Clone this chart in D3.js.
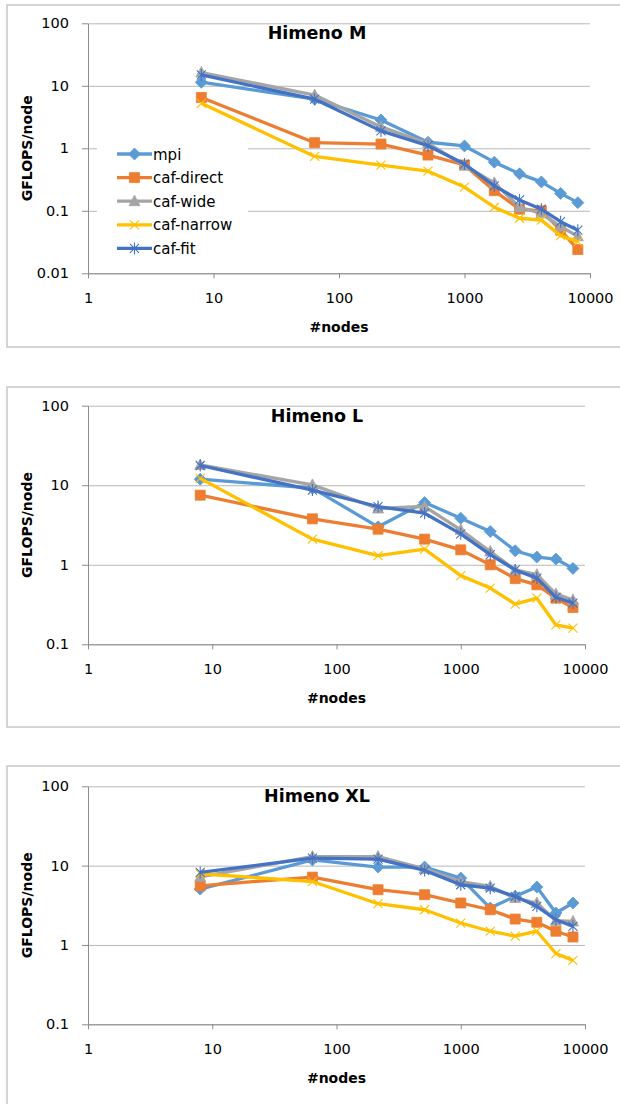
<!DOCTYPE html>
<html>
<head>
<meta charset="utf-8">
<script src="https://cdn.jsdelivr.net/npm/d3@7"></script>
<style>
  body { margin: 0; background: #fff; }
  svg text { font-family: "DejaVu Sans", sans-serif; fill: #000; }
</style>
</head>
<body>
<svg id="chart" width="620" height="1104"></svg>
<script>
// node counts (x values, shared by all panels)
const nodes = [8, 64, 216, 512, 1000, 1728, 2744, 4096, 5832, 8000];
const seriesNames = ["mpi", "caf-direct", "caf-wide", "caf-narrow", "caf-fit"];
const xTicks = [1, 10, 100, 1000, 10000];

// Himeno M  (GFLOPS/node)
const mMpi    = [11.4, 6.1, 2.84, 1.25, 1.09, 0.60, 0.39, 0.29, 0.19, 0.135];
const mDirect = [6.5, 1.23, 1.17, 0.78, 0.54, 0.21, 0.106, 0.10, 0.049, 0.024];
const mWide   = [16.3, 7.1, 2.2, 1.2, 0.53, 0.28, 0.114, 0.091, 0.056, 0.039];
const mNarrow = [5.25, 0.74, 0.54, 0.43, 0.24, 0.114, 0.076, 0.071, 0.040, 0.032];
const mFit    = [14.9, 6.1, 1.9, 1.1, 0.56, 0.25, 0.149, 0.106, 0.067, 0.049];

// Himeno L
const lMpi    = [11.9, 9.2, 3.0, 6.06, 3.85, 2.62, 1.5, 1.25, 1.18, 0.9];
const lDirect = [7.5, 3.78, 2.8, 2.1, 1.54, 1.0, 0.67, 0.56, 0.38, 0.29];
const lWide   = [18, 10.1, 5.1, 5.4, 2.75, 1.47, 0.86, 0.75, 0.43, 0.36];
const lNarrow = [12.2, 2.1, 1.3, 1.57, 0.73, 0.51, 0.32, 0.38, 0.175, 0.16];
const lFit    = [17.7, 8.7, 5.4, 4.45, 2.45, 1.34, 0.86, 0.68, 0.39, 0.33];

// Himeno XL
const xlMpi    = [5.06, 11.8, 9.6, 9.6, 6.96, 2.92, 4.1, 5.37, 2.53, 3.38];
const xlDirect = [5.57, 7.17, 4.97, 4.3, 3.38, 2.78, 2.12, 1.93, 1.49, 1.26];
const xlWide   = [7.2, 13, 13, 9.1, 6.3, 5.47, 3.9, 3.38, 2.02, 1.98];
const xlNarrow = [7.9, 6.3, 3.31, 2.78, 1.89, 1.49, 1.29, 1.49, 0.78, 0.64];
const xlFit    = [8.2, 12.4, 12.1, 8.7, 5.74, 5.2, 4.1, 3.07, 2.08, 1.72];

// styling
const colors  = ["#5B9BD5", "#ED7D31", "#A5A5A5", "#FFC000", "#4472C4"];
const markers = ["diamond", "square", "triangle", "x", "asterisk"];

const panels = [
  { title: "Himeno M",  series: [mMpi, mDirect, mWide, mNarrow, mFit],
    box: [5, 347],   y0: 273.3, y1: 23.3,  x1: 590, yDomain: [0.01, 100], legend: true },
  { title: "Himeno L",  series: [lMpi, lDirect, lWide, lNarrow, lFit],
    box: [387, 727], y0: 644.3, y1: 405.7, x1: 585, yDomain: [0.1, 100] },
  { title: "Himeno XL", series: [xlMpi, xlDirect, xlWide, xlNarrow, xlFit],
    box: [766, 1120], y0: 1024.3, y1: 786.3, x1: 585, yDomain: [0.1, 100] }
];

const svg = d3.select("#chart");
const x0 = 88;

function markerPath(type) {
  switch (type) {
    case "diamond":  return "M0,-6L6,0L0,6L-6,0Z";
    case "square":   return "M-5,-5H5V5H-5Z";
    case "triangle": return "M0,-6L5.5,4.5L-5.5,4.5Z";
    case "x":        return "M-4.5,-4.5L4.5,4.5M4.5,-4.5L-4.5,4.5";
    case "asterisk": return "M-4.5,-4.5L4.5,4.5M4.5,-4.5L-4.5,4.5M0,-6V6";
  }
}
const filled = t => t === "diamond" || t === "square" || t === "triangle";

function drawMarker(g, type, color) {
  g.append("path")
    .attr("d", markerPath(type))
    .attr("fill", filled(type) ? color : "none")
    .attr("stroke", color)
    .attr("stroke-width", filled(type) ? 0.8 : 1.1);
}

panels.forEach(p => {
  const x = d3.scaleLog().domain([1, 10000]).range([x0, p.x1]);
  const y = d3.scaleLog().domain(p.yDomain).range([p.y0, p.y1]);
  const yTicks = xTicks.filter(v => v >= p.yDomain[0] && v <= p.yDomain[1])
    .concat(p.yDomain[0] < 1 ? [0.1, 0.01].filter(v => v >= p.yDomain[0]) : []);

  // chart-area border
  svg.append("rect")
    .attr("x", 7).attr("y", p.box[0])
    .attr("width", 640).attr("height", p.box[1] - p.box[0])
    .attr("fill", "none").attr("stroke", "#c4c4c4").attr("stroke-width", 1.4);

  const g = svg.append("g");

  // gridlines
  g.append("g")
    .attr("transform", `translate(${x0},0)`)
    .call(d3.axisLeft(y).tickValues(yTicks).tickSize(-(p.x1 - x0)).tickFormat(""))
    .call(a => a.select(".domain").remove())
    .call(a => a.selectAll("line").attr("stroke", "#b8b8b8"));

  // y axis
  g.append("g")
    .attr("transform", `translate(${x0},0)`)
    .call(d3.axisLeft(y).tickValues(yTicks).tickSize(6).tickSizeOuter(0)
      .tickPadding(13).tickFormat(d => d >= 1 ? d3.format("d")(d) : String(d)))
    .call(a => a.select(".domain").attr("stroke", "#8c8c8c"))
    .call(a => a.selectAll("line").attr("stroke", "#8c8c8c"))
    .call(a => a.selectAll("text").attr("font-size", 14.5).attr("font-family", "DejaVu Sans"));

  // x axis
  g.append("g")
    .attr("transform", `translate(0,${p.y0})`)
    .call(d3.axisBottom(x).tickValues(xTicks).tickSize(5).tickSizeOuter(0)
      .tickPadding(14).tickFormat(d3.format("d")))
    .call(a => a.select(".domain").attr("stroke", "#8c8c8c"))
    .call(a => a.selectAll("line").attr("stroke", "#8c8c8c"))
    .call(a => a.selectAll("text").attr("font-size", 14.5).attr("font-family", "DejaVu Sans"));

  // series lines + markers
  const line = d3.line().x((d, i) => x(nodes[i])).y(d => y(d));
  p.series.forEach((vals, s) => {
    g.append("path")
      .datum(vals)
      .attr("d", line)
      .attr("fill", "none")
      .attr("stroke", colors[s])
      .attr("stroke-width", 3.3)
      .attr("stroke-linejoin", "round");
    vals.forEach((v, i) => {
      const m = g.append("g").attr("transform", `translate(${x(nodes[i])},${y(v)})`);
      drawMarker(m, markers[s], colors[s]);
    });
  });

  // title
  svg.append("text")
    .attr("x", 317).attr("y", p.y1 + 16)
    .attr("text-anchor", "middle")
    .attr("font-size", 17.5).attr("font-weight", "bold")
    .text(p.title);

  // axis titles
  svg.append("text")
    .attr("transform", `translate(32,${(p.y0 + p.y1) / 2}) rotate(-90)`)
    .attr("text-anchor", "middle")
    .attr("font-size", 14).attr("font-weight", "bold")
    .text("GFLOPS/node");

  svg.append("text")
    .attr("x", (x0 + p.x1) / 2).attr("y", p.y0 + 59)
    .attr("text-anchor", "middle")
    .attr("font-size", 14).attr("font-weight", "bold")
    .text("#nodes");

  // legend
  if (p.legend) {
    const lg = svg.append("g");
    lg.append("rect")
      .attr("x", 97).attr("y", 140).attr("width", 151).attr("height", 120)
      .attr("fill", "#fff");
    seriesNames.forEach((name, s) => {
      const ly = 154 + s * 23.6;
      lg.append("line")
        .attr("x1", 117).attr("x2", 152).attr("y1", ly).attr("y2", ly)
        .attr("stroke", colors[s]).attr("stroke-width", 3.3);
      drawMarker(lg.append("g").attr("transform", `translate(134.5,${ly})`), markers[s], colors[s]);
      lg.append("text")
        .attr("x", 153).attr("y", ly + 5.5)
        .attr("font-size", 15)
        .text(name);
    });
  }
});
</script>
</body>
</html>
